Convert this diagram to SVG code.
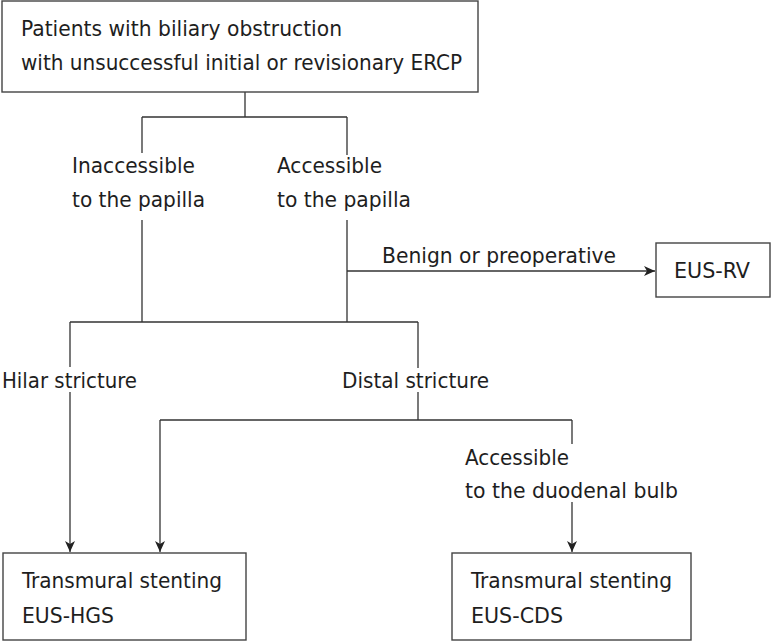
<svg xmlns="http://www.w3.org/2000/svg" width="771" height="642" viewBox="0 0 771 642">
<style>
.box{fill:#fff;stroke:#444;stroke-width:1.4}
.ln{fill:none;stroke:#333;stroke-width:1.3}
text{font-family:"DejaVu Sans Condensed","DejaVu Sans","Liberation Sans",Arial,sans-serif;font-stretch:condensed;font-size:22px;fill:#1e1e1e}
</style>
<defs>
<marker id="ah" markerWidth="12" markerHeight="10" refX="11" refY="5" orient="auto" markerUnits="userSpaceOnUse">
<path d="M0,0 L11,5 L0,10 L3,5 Z" fill="#222"/>
</marker>
</defs>
<rect width="771" height="642" fill="#fff"/>
<g id="connectors">
<path class="ln" d="M245,92 V117 M142,117 H347 M142,117 V153 M347,117 V155"/>
<path class="ln" d="M142,220 V322 M347,220 V322 M70,322 H418"/>
<path class="ln" d="M347,271 H655" marker-end="url(#ah)"/>
<path class="ln" d="M70,322 V367 M418,322 V368"/>
<path class="ln" d="M70,392 V552" marker-end="url(#ah)"/>
<path class="ln" d="M418,392 V420 M160,420 H572 M572,420 V444"/>
<path class="ln" d="M160,420 V552" marker-end="url(#ah)"/>
<path class="ln" d="M572,502 V552" marker-end="url(#ah)"/>
</g>
<g id="start">
<rect class="box" x="2" y="1" width="476" height="91"/>
<text x="21" y="36" textLength="321" lengthAdjust="spacingAndGlyphs">Patients with biliary obstruction</text>
<text x="21" y="70" textLength="441" lengthAdjust="spacingAndGlyphs">with unsuccessful initial or revisionary ERCP</text>
</g>
<g id="inaccessible">
<text x="72" y="173" textLength="123" lengthAdjust="spacingAndGlyphs">Inaccessible</text>
<text x="72" y="207" textLength="133" lengthAdjust="spacingAndGlyphs">to the papilla</text>
</g>
<g id="accessible">
<text x="277" y="173" textLength="105" lengthAdjust="spacingAndGlyphs">Accessible</text>
<text x="277" y="207" textLength="134" lengthAdjust="spacingAndGlyphs">to the papilla</text>
</g>
<g id="benign">
<text x="382" y="263" textLength="234" lengthAdjust="spacingAndGlyphs">Benign or preoperative</text>
</g>
<g id="eus-rv">
<rect class="box" x="656" y="243" width="114" height="54"/>
<text x="674" y="278" textLength="76" lengthAdjust="spacingAndGlyphs">EUS-RV</text>
</g>
<g id="hilar">
<text x="2" y="388" textLength="135" lengthAdjust="spacingAndGlyphs">Hilar stricture</text>
</g>
<g id="distal">
<text x="342" y="388" textLength="147" lengthAdjust="spacingAndGlyphs">Distal stricture</text>
</g>
<g id="bulb">
<text x="465" y="465" textLength="104" lengthAdjust="spacingAndGlyphs">Accessible</text>
<text x="465" y="498" textLength="213" lengthAdjust="spacingAndGlyphs">to the duodenal bulb</text>
</g>
<g id="eus-hgs">
<rect class="box" x="3" y="553" width="243" height="87"/>
<text x="22" y="588" textLength="200" lengthAdjust="spacingAndGlyphs">Transmural stenting</text>
<text x="22" y="623" textLength="92" lengthAdjust="spacingAndGlyphs">EUS-HGS</text>
</g>
<g id="eus-cds">
<rect class="box" x="452" y="553" width="239" height="87"/>
<text x="471" y="588" textLength="201" lengthAdjust="spacingAndGlyphs">Transmural stenting</text>
<text x="471" y="623" textLength="92" lengthAdjust="spacingAndGlyphs">EUS-CDS</text>
</g>
</svg>
